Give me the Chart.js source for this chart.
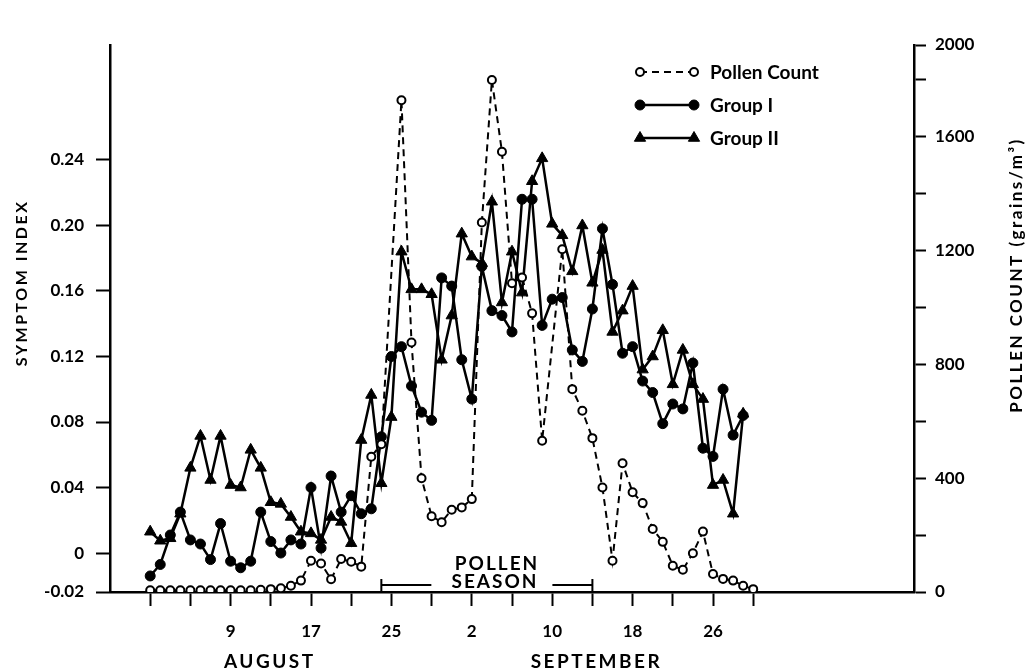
<!DOCTYPE html>
<html>
<head>
<meta charset="utf-8">
<title>Symptom index and pollen count</title>
<script src="https://cdn.jsdelivr.net/npm/chart.js@4.4.1/dist/chart.umd.min.js"></script>
<style>
    html, body { margin: 0; padding: 0; background: #fff; }
    #wrap { width: 1032px; height: 672px; position: relative; }
</style>
</head>
<body>
<div id="wrap"><canvas id="chart"></canvas></div>
<script>
// 日期：0 = 8月1日, 31 = 9月1日
const days = [0, 1, 2, 3, 4, 5, 6, 7, 8, 9, 10, 11, 12, 13, 14, 15, 16, 17, 18, 19,
    20, 21, 22, 23, 24, 25, 26, 27, 28, 29, 30, 31, 32, 33, 34, 35, 36, 37, 38, 39,
    40, 41, 42, 43, 44, 45, 46, 47, 48, 49, 50, 51, 52, 53, 54, 55, 56, 57, 58, 59, 60];

// 花粉數 (grains/m3)
const pollenCount = [6, 6, 6, 6, 6, 6, 6, 6, 6, 6, 6, 8, 10, 13, 22, 40, 110, 100, 45, 116,
    106, 89, 475, 519, null, 1726, 876, 399, 266, 245, 289, 297, 326, 1297, 1797, 1545, 1084, 1104, 978, 531,
    null, 1203, 712, 636, 540, 367, 110, 452, 350, 312, 221, 176, 92, 78, 136, 212, 63, 46, 40, 22, 10];

// 症狀指數
const groupOne = [-0.014, -0.007, 0.011, 0.025, 0.008, 0.0055, -0.004, 0.018, -0.005, -0.009,
    -0.005, 0.025, 0.007, 0.0, 0.008, 0.0055, 0.040, 0.003, 0.047, 0.025,
    0.035, 0.024, 0.027, 0.071, 0.12, 0.126, 0.102, 0.086, 0.081, 0.168,
    0.163, 0.118, 0.094, 0.175, 0.148, 0.145, 0.135, 0.216, 0.216, 0.139,
    0.155, 0.156, 0.124, 0.117, 0.149, 0.198, 0.164, 0.122, 0.126, 0.105,
    0.098, 0.079, 0.091, 0.088, 0.116, 0.064, 0.059, 0.10, 0.072, 0.084, null];

const groupTwo = [0.013, 0.0075, 0.009, 0.024, 0.052, 0.0715, 0.0446, 0.0715, 0.0415, 0.040,
    0.063, 0.052, 0.031, 0.030, 0.022, 0.013, 0.012, 0.008, 0.022, 0.019,
    0.006, 0.069, 0.0965, 0.0426, 0.083, 0.184, 0.161, 0.161, 0.158, 0.118,
    0.145, 0.195, 0.181, 0.177, 0.2145, 0.153, 0.184, 0.159, 0.227, 0.241,
    0.201, 0.194, 0.172, 0.2, 0.165, 0.185, 0.135, 0.148, 0.163, 0.112,
    0.120, 0.136, 0.103, 0.124, 0.103, 0.094, 0.0415, 0.0446, 0.024, 0.085, null];

// 刻度（兩軸的端點刻度在原圖中被壓縮，直接落在軸端）
const symptomTicks = [-0.02, 0, 0.04, 0.08, 0.12, 0.16, 0.20, 0.24];
const symptomTickLabels = ['-0.02', '0', '0.04', '0.08', '0.12', '0.16', '0.20', '0.24'];
const pollenTicks = [0, 200, 400, 600, 800, 1000, 1200, 1400, 1600, 1800, 2000];
const pollenTickLabels = ['0', '', '400', '', '800', '', '1200', '', '1600', '', '2000'];
const dayTicks = [0, 4, 8, 12, 16, 20, 24, 28, 32, 36, 40, 44, 48, 52, 56, 60];
const dayTickLabels = ['', '', '9', '', '17', '', '25', '', '2', '', '10', '', '18', '', '26', ''];

const months = ['AUGUST', 'SEPTEMBER'];
const monthCenters = [11.9, 44.4];
const seasonStart = 23;
const seasonEnd = 44;

const FONT = 'Lato, "DejaVu Sans", sans-serif';

function toPoints(values) {
    return days.map((d, i) => ({ x: d, y: values[i] }));
}

// 圖例、標題、花粉季標記
const decorPlugin = {
    id: 'decor',
    afterDraw(chart) {
        const ctx = chart.ctx;
        const xs = chart.scales.x;
        const area = chart.chartArea;
        ctx.save();
        ctx.fillStyle = '#000';
        ctx.strokeStyle = '#000';

        // 月份
        ctx.font = 'bold 19px ' + FONT;
        ctx.textAlign = 'center';
        ctx.textBaseline = 'middle';
        ctx.letterSpacing = '2.5px';
        months.forEach((m, i) => {
            ctx.fillText(m, xs.getPixelForValue(monthCenters[i]), 662);
        });

        // 花粉季
        const x0 = xs.getPixelForValue(seasonStart);
        const x1 = xs.getPixelForValue(seasonEnd);
        const yb = area.bottom - 7;
        ctx.lineWidth = 2;
        ctx.beginPath();
        ctx.moveTo(x0, yb - 6); ctx.lineTo(x0, yb + 6);
        ctx.moveTo(x0, yb); ctx.lineTo(x0 + 50, yb);
        ctx.moveTo(x1 - 40, yb); ctx.lineTo(x1, yb);
        ctx.moveTo(x1, yb - 6); ctx.lineTo(x1, yb + 6);
        ctx.stroke();
        ctx.font = 'bold 19px ' + FONT;
        ctx.letterSpacing = '2px';
        ctx.fillText('POLLEN', 497, 564);
        ctx.fillText('SEASON', 495, 582);

        // 軸標題
        ctx.font = 'bold 16px ' + FONT;
        ctx.letterSpacing = '2.5px';
        ctx.save();
        ctx.translate(22, 283);
        ctx.rotate(-Math.PI / 2);
        ctx.fillText('SYMPTOM INDEX', 0, 0);
        ctx.restore();
        ctx.font = 'bold 17px ' + FONT;
        ctx.letterSpacing = '2.5px';
        ctx.save();
        ctx.translate(1017, 275);
        ctx.rotate(-Math.PI / 2);
        ctx.fillText('POLLEN COUNT (grains/m\u00B3)', 0, 0);
        ctx.restore();

        // 圖例
        ctx.letterSpacing = '0px';
        ctx.font = 'bold 19px ' + FONT;
        ctx.textAlign = 'left';
        chart.data.datasets.forEach((ds, i) => {
            const y = 72 + i * 33;
            const la = 640, lb = 694;
            ctx.lineWidth = ds.borderWidth;
            ctx.setLineDash(ds.borderDash || []);
            ctx.beginPath();
            ctx.moveTo(la, y); ctx.lineTo(lb, y);
            ctx.stroke();
            ctx.setLineDash([]);
            const opts = {
                pointStyle: ds.pointStyle,
                radius: ds.pointRadius,
                borderWidth: ds.pointBorderWidth
            };
            ctx.fillStyle = ds.pointBackgroundColor;
            ctx.strokeStyle = '#000';
            ctx.lineWidth = ds.pointBorderWidth;
            Chart.helpers.drawPoint(ctx, opts, la, y);
            Chart.helpers.drawPoint(ctx, opts, lb, y);
            ctx.fillStyle = '#000';
            ctx.fillText(ds.label, 710, y + 1);
        });
        ctx.restore();
    }
};

const ctx = document.getElementById('chart').getContext('2d');
new Chart(ctx, {
    type: 'line',
    data: {
        datasets: [{
            label: 'Pollen Count',
            data: toPoints(pollenCount),
            yAxisID: 'y1',
            borderColor: '#000',
            borderWidth: 2,
            borderDash: [7, 5],
            pointStyle: 'circle',
            pointRadius: 4,
            pointBorderWidth: 2,
            pointBackgroundColor: '#fff',
            pointBorderColor: '#000',
            spanGaps: true,
            tension: 0
        }, {
            label: 'Group I',
            data: toPoints(groupOne),
            yAxisID: 'y',
            borderColor: '#000',
            borderWidth: 2.5,
            pointStyle: 'circle',
            pointRadius: 5,
            pointBorderWidth: 1,
            pointBackgroundColor: '#000',
            pointBorderColor: '#000',
            tension: 0
        }, {
            label: 'Group II',
            data: toPoints(groupTwo),
            yAxisID: 'y',
            borderColor: '#000',
            borderWidth: 2.5,
            pointStyle: 'triangle',
            pointRadius: 6.5,
            pointBorderWidth: 1,
            pointBackgroundColor: '#000',
            pointBorderColor: '#000',
            tension: 0
        }]
    },
    options: {
        responsive: true,
        maintainAspectRatio: false,
        animation: false,
        layout: { padding: { top: 45, left: 0, right: 0, bottom: 0 } },
        plugins: {
            legend: { display: false },
            tooltip: { enabled: false }
        },
        scales: {
            x: {
                type: 'linear',
                min: -4,
                max: 76,
                afterBuildTicks: s => { s.ticks = dayTicks.map(v => ({ value: v })); },
                afterFit: s => { s.height = 80; },
                ticks: {
                    autoSkip: false,
                    maxRotation: 0,
                    padding: 15,
                    color: '#000',
                    font: { family: FONT, size: 17, weight: 'bold' },
                    callback: (v, i) => dayTickLabels[i]
                },
                grid: { drawOnChartArea: false, drawTicks: true, tickLength: 14, tickWidth: 2, tickColor: '#000' },
                border: { color: '#000', width: 2.5 }
            },
            y: {
                position: 'left',
                min: -0.0238,
                max: 0.3102,
                afterBuildTicks: s => {
                    s.ticks = symptomTicks.map((v, i) => ({ value: i === 0 ? s.min : v }));
                },
                afterFit: s => { s.width = 110; },
                ticks: {
                    autoSkip: false,
                    padding: 12,
                    color: '#000',
                    font: { family: FONT, size: 17, weight: 'bold' },
                    callback: (v, i) => symptomTickLabels[i]
                },
                grid: { drawOnChartArea: false, drawTicks: true, tickLength: 14, tickWidth: 2, tickColor: '#000' },
                border: { color: '#000', width: 2.5 }
            },
            y1: {
                position: 'right',
                min: 0,
                max: 1920,
                afterBuildTicks: s => {
                    s.ticks = pollenTicks.map((v, i) => ({ value: i === pollenTicks.length - 1 ? s.max : v }));
                },
                afterFit: s => { s.width = 118; },
                ticks: {
                    autoSkip: false,
                    padding: 9,
                    color: '#000',
                    font: { family: FONT, size: 17, weight: 'bold' },
                    callback: (v, i) => pollenTickLabels[i]
                },
                grid: { drawOnChartArea: false, drawTicks: true, tickLength: 12, tickWidth: 2, tickColor: '#000' },
                border: { color: '#000', width: 2.5 }
            }
        }
    },
    plugins: [decorPlugin]
});
</script>
</body>
</html>
